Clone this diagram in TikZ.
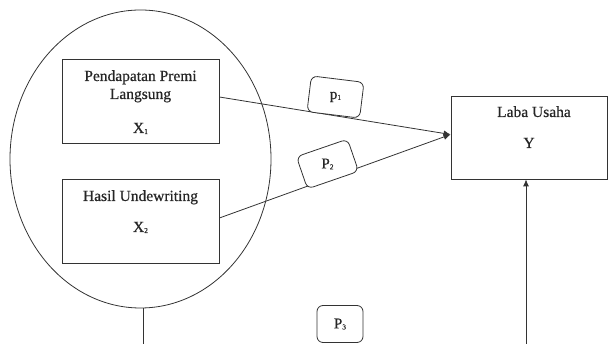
\documentclass[tikz,border=0pt]{standalone}
\usepackage{fontspec}
\setmainfont{Liberation Serif}[FakeBold=0.6]
\usetikzlibrary{arrows.meta,shapes.geometric}
\newcommand{\sbs}[1]{\raisebox{-1pt}{\fontsize{7.5}{8}\selectfont #1}}
\begin{document}
\begin{tikzpicture}[x=1pt,y=1pt,
  ln/.style={draw=black!80, line width=0.8pt},
  varbox/.style={ln, minimum width=157pt, minimum height=84pt, inner sep=0pt},
  pbox/.style={ln, fill=white, rounded corners=6pt, inner sep=0pt},
  txt/.style={inner sep=0pt, anchor=base, text=black!85, font=\fontsize{15.5}{18}\selectfont},
  ptxt/.style={inner sep=0pt, text=black!85, font=\fontsize{15}{18}\selectfont},
  arr/.style={ln, -{Latex[length=7pt,width=6pt]}}
]
\useasboundingbox (0,0) rectangle (608,344);
% ellipse
\node (ell) [ln, ellipse, minimum width=261pt, minimum height=298pt, inner sep=0pt] at (140.5,185) {};
% boxes
\node (x1) [varbox] at (140.5,243) {};
\node (x2) [varbox] at (140.5,123) {};
\node (y) [ln, minimum width=156pt, minimum height=83pt, inner sep=0pt] at (529,206.5) {};
% texts
\node (t1) [txt] at (140.5,263) {Pendapatan Premi};
\node (t2) [txt] at (140.5,245) {Langsung};
\node (t3) [txt] at (140.5,211) {X\sbs{1}};
\node (t4) [txt] at (140.5,143) {Hasil Undewriting};
\node (t5) [txt] at (140.5,112) {X\sbs{2}};
\node (t6) [txt] at (534,227) {Laba Usaha};
\node (t7) [txt] at (529,196) {Y};
% connectors
\coordinate (tip) at ([yshift=3pt]y.west);
\draw[arr] ([yshift=4pt]x1.east) -- (tip);
\draw[arr] ([yshift=3pt]x2.east) -- (tip);
\coordinate (eb) at (143,0);
\coordinate (yb) at (526,0);
\draw[ln] (ell.south -| eb) -- (eb);
\draw[arr] (yb) -- (yb |- y.south);
% path labels
\node (p1) [pbox, rotate=-7, minimum width=53pt, minimum height=36pt] at (335.5,247) {};
\node (p1t) [ptxt] at (p1) {p\sbs{1}};
\node (p2) [pbox, rotate=19, minimum width=54pt, minimum height=34pt] at (327.5,180) {};
\node (p2t) [ptxt] at (p2) {P\sbs{2}};
\node (p3) [pbox, minimum width=46pt, minimum height=37pt] at (340,20) {};
\node (p3t) [ptxt] at (p3) {P\sbs{3}};
\end{tikzpicture}
\end{document}
